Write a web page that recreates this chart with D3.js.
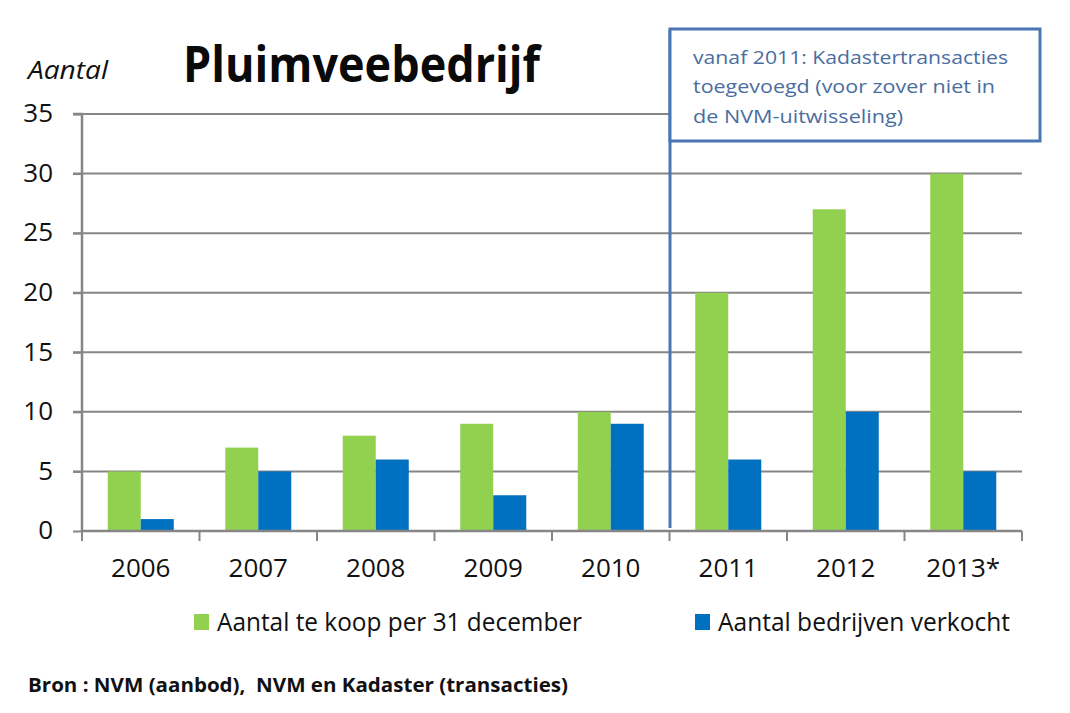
<!DOCTYPE html>
<html>
<head>
<meta charset="utf-8">
<style>
    body { margin: 0; background: white; }
    svg { font-family: 'Open Sans', sans-serif; }
</style>
</head>
<body>
<svg width="1070" height="713"></svg>
<script src="https://d3js.org/d3.v7.min.js"></script>
<script>
    // data
    let years = ["2006", "2007", "2008", "2009", "2010", "2011", "2012", "2013*"];
    let teKoop = [5, 7, 8, 9, 10, 20, 27, 30];
    let verkocht = [1, 5, 6, 3, 9, 6, 10, 5];
    let seriesNames = ["Aantal te koop per 31 december", "Aantal bedrijven verkocht"];
    let yTicks = [0, 5, 10, 15, 20, 25, 30, 35];
    let noteLines = ["vanaf 2011: Kadastertransacties", "toegevoegd (voor zover niet in", "de NVM-uitwisseling)"];

    let colors = ["#92d050", "#0070c0"];
    let gridColor = "#868686";
    let noteColor = "#4a76b4";

    let svg = d3.select("svg");

    let plotLeft = 82, plotRight = 1022, plotTop = 114, plotBottom = 531;

    let x0 = d3.scaleBand().domain(years).range([plotLeft, plotRight]);
    let x1 = d3.scaleBand().domain(seriesNames).range([0, x0.bandwidth()]).paddingOuter(0.78);
    let y = d3.scaleLinear().domain([0, 35]).range([plotBottom, plotTop]);

    // shrink a text to the width it has in the picture
    function fitWidth(sel, w) {
        sel.attr("textLength", w).attr("lengthAdjust", "spacingAndGlyphs");
    }

    // gridlines
    svg.append("g")
        .selectAll("line")
        .data(yTicks.filter(d => d > 0))
        .join("line")
        .attr("x1", plotLeft - 9)
        .attr("x2", plotRight)
        .attr("y1", d => y(d))
        .attr("y2", d => y(d))
        .style("stroke", gridColor)
        .style("stroke-width", 2);

    // bars
    let rows = years.map((yr, i) => ({ year: yr, values: [teKoop[i], verkocht[i]] }));
    svg.append("g")
        .selectAll("g")
        .data(rows)
        .join("g")
        .attr("transform", d => "translate(" + x0(d.year) + ",0)")
        .selectAll("rect")
        .data(d => d.values.map((v, j) => ({ name: seriesNames[j], value: v, j: j })))
        .join("rect")
        .attr("x", d => x1(d.name))
        .attr("width", x1.bandwidth())
        .attr("y", d => y(d.value))
        .attr("height", d => y(0) - y(d.value))
        .style("fill", d => colors[d.j]);

    // y axis
    let yAxis = svg.append("g")
        .attr("transform", "translate(" + plotLeft + ",0)")
        .call(d3.axisLeft(y).tickValues(yTicks).tickSize(9).tickPadding(20))
        .attr("font-family", null);
    yAxis.select(".domain").style("stroke", gridColor).style("stroke-width", 2.5)
        .attr("d", "M-9," + plotTop + "H0V" + plotBottom);
    yAxis.selectAll(".tick line").style("stroke", gridColor).style("stroke-width", 2);
    yAxis.selectAll("text").style("font-size", "26px").style("fill", "#111").attr("dy", "0.3em");

    // x axis
    let xAxis = svg.append("g")
        .attr("transform", "translate(0," + plotBottom + ")")
        .call(d3.axisBottom(x0).tickSize(0).tickPadding(28))
        .attr("font-family", null);
    xAxis.select(".domain").style("stroke", gridColor).style("stroke-width", 2.5)
        .attr("d", "M" + plotLeft + ",0H" + plotRight);
    xAxis.selectAll("text").style("font-size", "26px").style("fill", "#111");
    xAxis.append("g")
        .selectAll("line")
        .data(years.map(d => x0(d)).concat([plotRight]))
        .join("line")
        .attr("x1", d => d).attr("x2", d => d)
        .attr("y1", 0).attr("y2", 10)
        .style("stroke", gridColor)
        .style("stroke-width", 2);

    // annotation line and box
    let noteX = x0("2011") + 0.5;
    svg.append("line")
        .attr("x1", noteX).attr("x2", noteX)
        .attr("y1", 30).attr("y2", plotBottom - 3)
        .style("stroke", noteColor)
        .style("stroke-width", 3);
    svg.append("rect")
        .attr("x", noteX).attr("y", 29)
        .attr("width", 370).attr("height", 112)
        .style("fill", "white")
        .style("stroke", noteColor)
        .style("stroke-width", 3);
    let noteWidths = [315, 302, 210];
    svg.append("g")
        .selectAll("text")
        .data(noteLines)
        .join("text")
        .attr("x", noteX + 23)
        .attr("y", (d, i) => 64 + i * 29.3)
        .text(d => d)
        .attr("textLength", (d, i) => noteWidths[i])
        .attr("lengthAdjust", "spacingAndGlyphs")
        .style("font-size", "18.5px")
        .style("fill", "#4a6da0");

    // titles
    svg.append("text")
        .attr("x", 183).attr("y", 82)
        .text("Pluimveebedrijf")
        .style("font-size", "50px")
        .style("font-weight", "bold")
        .style("fill", "#0a0a0a")
        .call(fitWidth, 357);
    svg.append("text")
        .attr("x", 28).attr("y", 79)
        .text("Aantal")
        .style("font-size", "26px")
        .style("font-style", "italic")
        .style("fill", "#111")
        .call(fitWidth, 80);

    // legend
    let legendX = [194, 695];
    let legendWidths = [365, 292];
    let legend = svg.append("g")
        .selectAll("g")
        .data(seriesNames)
        .join("g")
        .attr("transform", (d, i) => "translate(" + legendX[i] + ",614)");
    legend.append("rect")
        .attr("width", 15).attr("height", 16)
        .style("fill", (d, i) => colors[i]);
    legend.append("text")
        .attr("x", 23)
        .attr("y", 17)
        .text(d => d)
        .attr("textLength", (d, i) => legendWidths[i])
        .attr("lengthAdjust", "spacingAndGlyphs")
        .style("font-size", "25px")
        .style("fill", "#111");

    // source
    svg.append("text")
        .attr("x", 28).attr("y", 692)
        .text("Bron : NVM (aanbod),  NVM en Kadaster (transacties)")
        .style("font-size", "19.5px")
        .style("font-weight", "bold")
        .style("fill", "#111")
        .style("white-space", "pre")
        .call(fitWidth, 540);
</script>
</body>
</html>
